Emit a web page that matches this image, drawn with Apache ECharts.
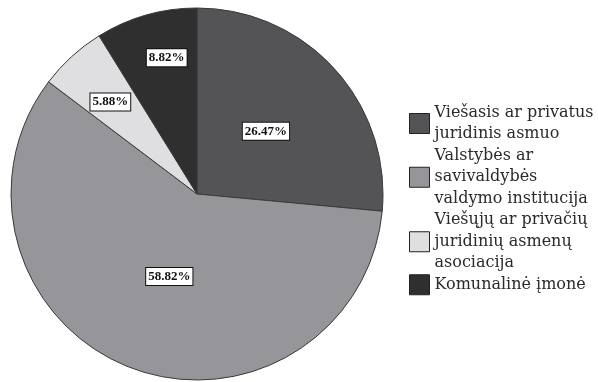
<!DOCTYPE html>
<html>
<head>
<meta charset="utf-8">
<script src="https://cdn.jsdelivr.net/npm/echarts@6/dist/echarts.min.js"></script>
<style>
  html, body { margin: 0; padding: 0; background: #ffffff; }
  #chart { width: 598px; height: 382px; }
</style>
</head>
<body>
<div id="chart"></div>
<script>
// Respondent types and their shares (percent)
const categories = [
  'Viešasis ar privatus juridinis asmuo',
  'Valstybės ar savivaldybės valdymo institucija',
  'Viešųjų ar privačių juridinių asmenų asociacija',
  'Komunalinė įmonė'
];
const shares = [26.47, 58.82, 5.88, 8.82];

// Legend text, broken into lines
const legendLines = [
  ['Viešasis ar privatus', 'juridinis asmuo'],
  ['Valstybės ar', 'savivaldybės', 'valdymo institucija'],
  ['Viešųjų ar privačių', 'juridinių asmenų', 'asociacija'],
  ['Komunalinė įmonė']
];

// Slice fills, in category order
const sliceColors = ['#545457', '#96969a', '#dfdfe1', '#2f2f30'];

// Nudges for the value boxes inside the slices
const labelNudge = [[-2, 2], [7, -7], [-22, -21], [-4, -44]];

const chart = echarts.init(document.getElementById('chart'), null, { renderer: 'canvas' });

chart.setOption({
  animation: false,
  backgroundColor: '#ffffff',
  color: sliceColors,
  legend: {
    orient: 'vertical',
    left: 404,
    top: 97,
    itemWidth: 20,
    itemHeight: 20,
    itemGap: 0,
    icon: 'rect',
    itemStyle: { borderColor: '#222222', borderWidth: 1 },
    formatter: function (name) {
      return legendLines[categories.indexOf(name)].join('\n');
    },
    textStyle: {
      fontFamily: 'DejaVu Serif',
      fontSize: 16,
      lineHeight: 21.5,
      color: '#2a2a2a'
    },
    selectedMode: false
  },
  series: [{
    type: 'pie',
    center: [197, 194],
    radius: [0, 186],
    startAngle: 90,
    clockwise: true,
    avoidLabelOverlap: false,
    itemStyle: { borderColor: '#3a3a3a', borderWidth: 1 },
    emphasis: { disabled: true },
    label: {
      show: true,
      position: 'inside',
      formatter: function (p) { return p.value.toFixed(2) + '%'; },
      fontFamily: 'Liberation Serif',
      fontWeight: 'bold',
      fontSize: 13,
      lineHeight: 13,
      color: '#111111',
      backgroundColor: '#ffffff',
      borderColor: '#111111',
      borderWidth: 1,
      padding: [2, 2, 2, 2]
    },
    labelLine: { show: false },
    labelLayout: function (params) {
      const n = labelNudge[params.dataIndex];
      return { dx: n[0], dy: n[1] };
    },
    data: categories.map(function (name, i) {
      return { name: name, value: shares[i] };
    })
  }]
});
</script>
</body>
</html>
